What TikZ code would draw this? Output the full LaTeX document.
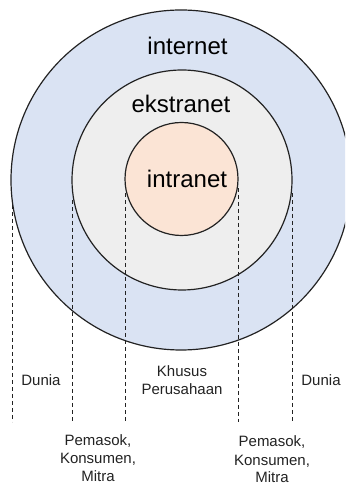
\documentclass[tikz,border=0pt]{standalone}
\usepackage{fontspec}
\setmainfont{Liberation Sans}
\definecolor{worldblue}{HTML}{DAE3F3}
\definecolor{partnergray}{HTML}{EEEEEE}
\definecolor{corppeach}{HTML}{FBE4D5}
\definecolor{ink}{HTML}{222222}
\begin{document}
\begin{tikzpicture}[x=1pt,y=1pt,
  ring/.style={circle, draw=ink, line width=1.2pt, inner sep=0pt},
  bigtext/.style={anchor=base, inner sep=0pt, text=black, font=\fontsize{24}{28}\selectfont},
  smalltext/.style={anchor=base, inner sep=0pt, text=ink, align=center, font=\fontsize{15}{18}\selectfont},
  boundary/.style={draw=ink, line width=0.8pt, dash pattern=on 4pt off 3pt}]
  \useasboundingbox (0,0) rectangle (345,486);
  \clip (0,0) rectangle (345,486);

  % nested network zones
  \node[ring, fill=worldblue, minimum size=340pt] (outer) at (181,306) {};
  \node[ring, fill=partnergray, minimum size=220pt] (middle) at (182,306) {};
  \node[ring, fill=corppeach, minimum size=113pt] (inner) at (181.5,307) {};

  \node[bigtext] (tinternet) at (187.5,431) {internet};
  \node[bigtext] (tekstranet) at (181,373) {ekstranet};
  \node[bigtext] (tintranet) at (187,298) {intranet};

  % boundary lines dropped from the circle edges
  \coordinate (d1a) at (12,281);    \coordinate (d1b) at (12,64);
  \coordinate (d2a) at (72.5,286);  \coordinate (d2b) at (72.5,64);
  \coordinate (d3a) at (125.5,293); \coordinate (d3b) at (125.5,64);
  \coordinate (d4a) at (238,298);   \coordinate (d4b) at (238,64);
  \coordinate (d5a) at (292,293);   \coordinate (d5b) at (292,64);
  \draw[boundary] (d1a) -- (d1b);
  \draw[boundary] (d2a) -- (d2b);
  \draw[boundary] (d3a) -- (d3b);
  \draw[boundary] (d4a) -- (d4b);
  \draw[boundary] (d5a) -- (d5b);

  % zone labels (base anchor sits on the last line)
  \node[smalltext] (dunial) at (41,100) {Dunia};
  \node[smalltext] (duniar) at (321,100) {Dunia};
  \node[smalltext] (khusus) at (182,91) {Khusus\\Perusahaan};
  \node[smalltext] (mitral) at (98,5) {Pemasok,\\Konsumen,\\Mitra};
  \node[smalltext] (mitrar) at (272,3) {Pemasok,\\Konsumen,\\Mitra};
\end{tikzpicture}
\end{document}
